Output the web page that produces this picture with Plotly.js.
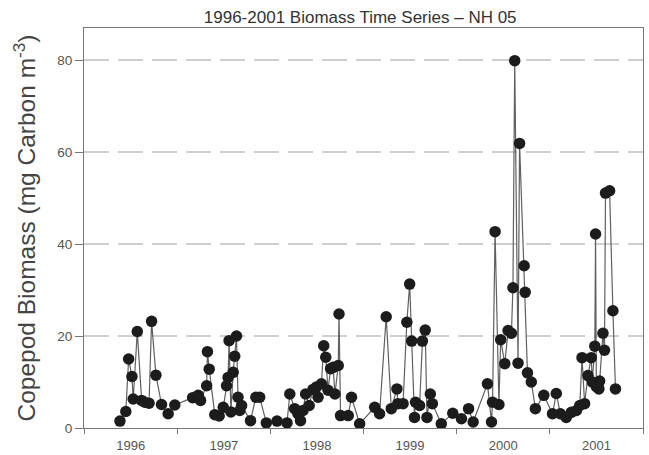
<!DOCTYPE html>
<html>
<head>
<meta charset="utf-8">
<script src="https://cdn.plot.ly/plotly-3.0.1.min.js"></script>
<style>html,body{margin:0;padding:0;background:#fff}#chart{width:649px;height:455px}</style>
</head>
<body>
<div id="chart"></div>
<script>
// Sampling dates (NH 05 station)
const dates = [
  "1996-05-21","1996-06-13","1996-06-24","1996-07-07","1996-07-12","1996-07-28","1996-08-14","1996-08-27",
  "1996-09-12","1996-09-22","1996-10-09","1996-10-31","1996-11-26","1996-12-22",
  "1997-03-02","1997-03-24","1997-04-02","1997-04-26","1997-04-29","1997-05-06","1997-05-28","1997-06-14",
  "1997-06-30","1997-07-13","1997-07-19","1997-07-23","1997-07-30","1997-08-08","1997-08-14","1997-08-21",
  "1997-08-27","1997-09-03","1997-09-10","1997-10-15","1997-11-05","1997-11-20","1997-12-16",
  "1998-01-27","1998-03-07","1998-03-18","1998-04-06","1998-04-19","1998-04-29","1998-05-09","1998-05-19",
  "1998-06-02","1998-06-17","1998-06-30","1998-07-07","1998-07-20","1998-07-29","1998-08-06","1998-08-15",
  "1998-08-25","1998-09-04","1998-09-11","1998-09-24","1998-09-27","1998-10-03","1998-11-02","1998-11-15",
  "1998-12-17",
  "1999-02-14","1999-03-05","1999-03-31","1999-04-20","1999-05-12","1999-05-16","1999-06-05","1999-06-20",
  "1999-07-01","1999-07-09","1999-07-20","1999-07-24","1999-08-09","1999-08-20","1999-08-31","1999-09-07",
  "1999-09-20","1999-09-28","1999-11-02","1999-12-17",
  "2000-01-20","2000-02-17","2000-03-06","2000-05-01","2000-05-17","2000-05-21","2000-05-31","2000-06-15",
  "2000-06-22","2000-07-08","2000-07-21","2000-08-03","2000-08-09","2000-08-16","2000-08-29","2000-09-04",
  "2000-09-22","2000-09-26","2000-10-05","2000-10-20","2000-11-05","2000-12-08",
  "2001-01-11","2001-01-26","2001-02-11","2001-03-06","2001-03-26","2001-04-15","2001-04-28","2001-05-07",
  "2001-05-17","2001-05-30","2001-06-12","2001-06-16","2001-06-26","2001-06-29","2001-07-02","2001-07-12",
  "2001-07-15","2001-07-28","2001-08-03","2001-08-07","2001-08-23","2001-09-05","2001-09-15"
];
// Copepod biomass, mg Carbon m^-3
const biomass = [
  1.5, 3.6, 15.0, 11.2, 6.3, 21.0, 6.0, 5.6,
  5.4, 23.2, 11.5, 5.1, 3.1, 5.0,
  6.6, 7.1, 6.0, 9.2, 16.6, 12.8, 2.9, 2.6,
  4.5, 9.2, 11.0, 19.0, 3.5, 12.1, 15.6, 20.0,
  6.7, 3.8, 4.9, 1.6, 6.7, 6.7, 1.1,
  1.5, 1.1, 7.4, 4.2, 3.1, 1.6, 3.8, 7.4,
  4.9, 8.4, 8.9, 6.7, 9.6, 17.9, 15.4, 8.2,
  12.9, 13.2, 7.4, 13.6, 24.8, 2.7, 2.7, 6.7,
  0.9,
  4.5, 3.1, 24.2, 4.2, 8.5, 5.3, 5.3, 23.0,
  31.3, 18.9, 2.3, 5.6, 4.9, 18.9, 21.3, 2.3,
  7.4, 5.3, 0.9, 3.2,
  2.0, 4.2, 1.3, 9.6, 1.3, 5.6, 42.7, 5.1,
  19.2, 14.0, 21.2, 20.6, 30.5, 79.9, 14.1, 61.9,
  35.3, 29.5, 12.0, 10.0, 4.2, 7.1,
  3.1, 7.5, 3.1, 2.3, 3.4, 3.8, 4.9, 15.3,
  5.3, 11.4, 15.3, 10.0, 17.8, 42.2, 9.0, 8.5,
  10.2, 20.6, 16.9, 51.1, 51.6, 25.5, 8.5
];
const yTicks = [0, 20, 40, 60, 80];
const titleText = "1996-2001 Biomass Time Series – NH 05";
const yTitleText = "Copepod Biomass (mg Carbon m<sup>-3</sup>)";

const trace = {
  x: dates, y: biomass, type: "scatter", mode: "lines+markers",
  line: {color: "#606060", width: 1.2},
  marker: {color: "#1c1c1c", size: 11.5, line: {width: 0}},
  hoverinfo: "x+y"
};

const layout = {
  width: 649, height: 455,
  margin: {l: 84, r: 6, t: 28, b: 27},
  paper_bgcolor: "#fff", plot_bgcolor: "#fff",
  showlegend: false,
  font: {family: "Liberation Sans, Arial, sans-serif", color: "#444"},
  title: {text: titleText, font: {size: 17, color: "#333"}, x: 0.555, xanchor: "center", y: 0.963, yanchor: "middle"},
  xaxis: {
    type: "date", range: ["1996-01-01", "2002-01-01"],
    tick0: "1996-01-01", dtick: "M12", tickformat: "%Y", ticklabelmode: "period",
    ticks: "outside", ticklen: 5, tickcolor: "#777", tickwidth: 1,
    showgrid: false, zeroline: false,
    showline: true, linecolor: "#777", linewidth: 1, mirror: true,
    tickfont: {size: 13, color: "#555"}
  },
  yaxis: {
    range: [0, 87], tickvals: yTicks,
    ticks: "outside", ticklen: 8, tickcolor: "#777", tickwidth: 1,
    showgrid: true, gridcolor: "#cfcfcf", gridwidth: 1.5, griddash: "25px,9px",
    zeroline: false, showline: true, linecolor: "#777", linewidth: 1, mirror: true,
    tickfont: {size: 13.5, color: "#555"},
    title: {text: yTitleText, font: {size: 24.5, color: "#444"}, standoff: 14}
  }
};

Plotly.newPlot("chart", [trace], layout, {displayModeBar: false, staticPlot: true});
</script>
</body>
</html>
